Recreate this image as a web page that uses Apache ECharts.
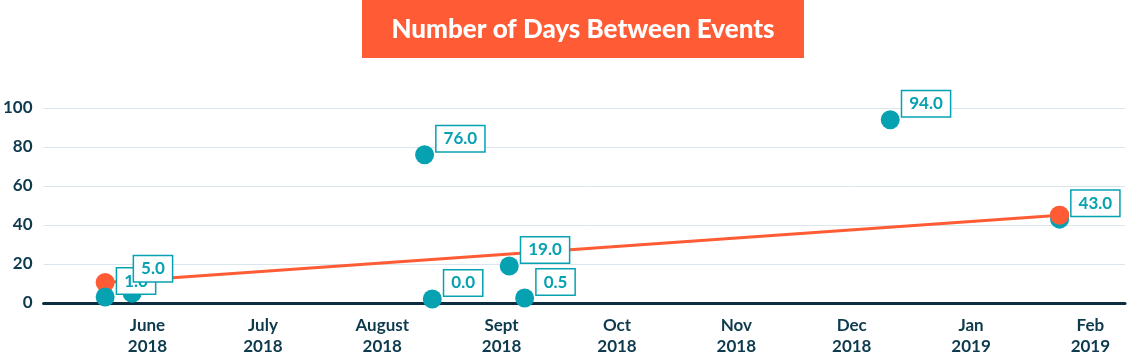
<!DOCTYPE html>
<html><head><meta charset="utf-8">
<script src="https://cdn.jsdelivr.net/npm/echarts@6/dist/echarts.min.js"></script>
<style>html,body{margin:0;padding:0;background:#fff}#c{width:1129px;height:357px}</style>
</head><body><div id="c"></div>
<script>
// ---- data ----
const eventDates = ['2018-05-21','2018-05-28','2018-08-12','2018-08-14','2018-09-03','2018-09-07','2018-12-11','2019-01-24'];
const daysBetween = [1.0, 5.0, 76.0, 0.0, 19.0, 0.5, 94.0, 43.0];
const trendDates = ['2018-05-21','2019-01-24'];
const trendValues = [10.5, 45.0];
const monthNames = ['Jan','Feb','Mar','Apr','May','June','July','August','Sept','Oct','Nov','Dec'];
const titleText = 'Number of Days Between Events';
const xRange = ['2018-05-05','2019-02-10'];
const yMin = 0, yMax = 100, yInterval = 20;

// ---- styles ----
const TEAL = '#07a2b2', ORANGE = '#ff5c36', NAVY = '#0e3a4e', FONT = 'Lato';
const DAY = 86400000;

const labelBase = {
  show: true, position: [21.5, -19], align: 'left', verticalAlign: 'top',
  color: TEAL, fontFamily: FONT, fontWeight: 'bold', fontSize: 17, lineHeight: 19,
  backgroundColor: '#fff', borderColor: TEAL, borderWidth: 1.5, padding: [3, 7, 3, 7],
  formatter: p => p.value[1].toFixed(1)
};
const scatterData = eventDates.map((d, i) => {
  const v = daysBetween[i];
  const item = { value: [d, v] };
  if (v < 2) item.symbolOffset = [0, -4];
  if (i === 1) item.label = { position: [11.5, -27.5] };
  return item;
});
const trendData = trendDates.map((d, i) => [d, trendValues[i]]);

const chart = echarts.init(document.getElementById('c'), null, { renderer: 'canvas' });
chart.setOption({
  animation: false,
  grid: { left: 41, right: 4, top: 108, bottom: 50, containLabel: false },
  graphic: [{
    type: 'group', left: 362, top: 0,
    children: [
      { type: 'rect', shape: { x: 0, y: 0, width: 442, height: 58 }, style: { fill: ORANGE } },
      { type: 'text', x: 221, y: 30, style: { text: titleText, fill: '#fff', font: '900 26px Lato', textAlign: 'center', textVerticalAlign: 'middle' } }
    ]
  }],
  xAxis: {
    type: 'time', min: xRange[0], max: xRange[1],
    minInterval: 28 * DAY, maxInterval: 31 * DAY,
    axisLine: { show: true, lineStyle: { color: '#0d2c3e', width: 3 } },
    axisTick: { show: false },
    splitLine: { show: false },
    axisLabel: {
      margin: 12, color: NAVY, fontFamily: FONT, fontWeight: 'bold', fontSize: 17, lineHeight: 21,
      hideOverlap: false,
      formatter: val => { const d = new Date(val); return monthNames[d.getMonth()] + '\n' + d.getFullYear(); }
    }
  },
  yAxis: {
    type: 'value', min: yMin, max: yMax, interval: yInterval,
    axisLine: { show: false }, axisTick: { show: false },
    splitLine: { lineStyle: { color: '#dbe5ec', width: 1 } },
    axisLabel: { margin: 11, color: NAVY, fontFamily: FONT, fontWeight: 'bold', fontSize: 17 }
  },
  series: [
    { type: 'line', z: 1, data: trendData, symbol: 'circle', symbolSize: 19, showSymbol: true,
      itemStyle: { color: ORANGE }, lineStyle: { color: ORANGE, width: 3 }, silent: true },
    { type: 'scatter', z: 2, data: scatterData, symbol: 'circle', symbolSize: 19,
      itemStyle: { color: TEAL, opacity: 1 }, label: labelBase },
    { type: 'scatter', z: 3, data: trendData.slice(-1), symbol: 'circle', symbolSize: 19,
      itemStyle: { color: ORANGE, opacity: 1 }, silent: true }
  ]
});
</script></body></html>
